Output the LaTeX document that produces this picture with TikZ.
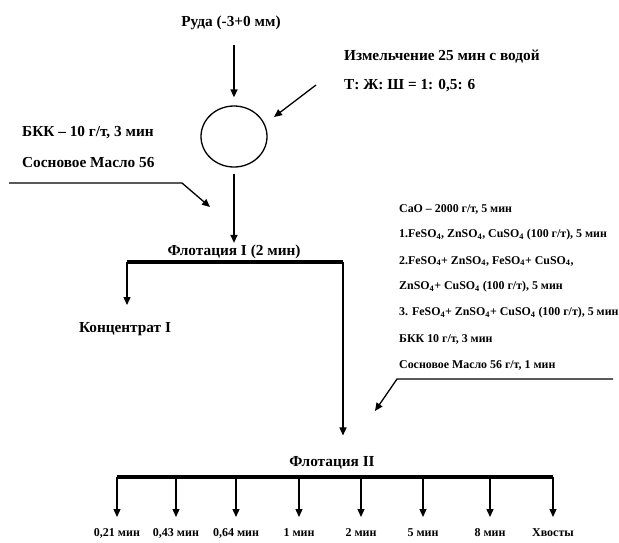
\documentclass[tikz,border=0pt]{standalone}
\usepackage{fontspec}
\setmainfont{Liberation Serif}
\usetikzlibrary{arrows.meta,shapes.geometric}

\tikzset{
  lbl/.style={font=\bfseries\fontsize{15.3}{18}\selectfont, inner sep=1pt},
  small/.style={font=\bfseries\fontsize{11.9}{14}\selectfont, inner sep=1pt, anchor=west},
  tiny/.style={font=\bfseries\fontsize{12}{14}\selectfont, inner sep=1pt},
  flow/.style={line width=1.3pt, -{Triangle[length=8pt,width=7pt]}},
  bar/.style={line width=3.8pt},
}
\newcommand{\so}[1]{#1SO\textsubscript{4}}

\begin{document}
\begin{tikzpicture}[x=1pt,y=-1pt]
    \useasboundingbox (0,0) rectangle (619,542);

    % ore, mill and grinding conditions
    \node[lbl] (ore) at (231,23) {Руда (-3+0 мм)};
    \node[draw, ellipse, line width=1.3pt, minimum width=66pt, minimum height=61pt, inner sep=0pt] (mill) at (234,136.5) {};
    \node[lbl, anchor=west] (grind) at (343,57) {Измельчение 25 мин с водой};
    \node[lbl, anchor=west] (ratio) at (343,86) {Т: Ж: Ш = 1: 0,5: 6};
    \coordinate (orein) at (234,45);
    \coordinate (grindin) at (316,85);
    \coordinate (grindtip) at (274,117);

    \draw[flow, shorten >=8pt] (orein) -- (mill.north);
    \draw[flow] (grindin) -- (grindtip);

    % reagents of the first flotation
    \node[lbl, anchor=west] (bkk1) at (21,133) {БКК – 10 г/т, 3 мин};
    \node[lbl, anchor=west] (oil1) at (21,163) {Сосновое Масло 56};
    \coordinate (feed1) at (9,183);
    \coordinate (bend1) at (182,183);
    \coordinate (tip1) at (210,207);
    \draw[flow] (feed1) -- (bend1) -- (tip1);

    % flotation I
    \node[lbl] (flot1) at (234,252) {Флотация I (2 мин)};
    \draw[flow, shorten <=6pt, shorten >=1pt] (mill.south) -- (flot1.north);
    \coordinate (bar1w) at (127,262);
    \coordinate (bar1e) at (343,262);
    \draw[bar] (bar1w) -- (bar1e);
    \node[lbl] (conc1) at (125,329) {Концентрат I};
    \draw[flow] (bar1w) -- (127,305);

    % reagents of the second flotation
    \node[small] (r1) at (398,209) {CaO – 2000 г/т, 5 мин};
    \node[small] (r2) at (398,235) {1.\so{Fe}, \so{Zn}, \so{Cu} (100 г/т), 5 мин};
    \node[small] (r3) at (398,261) {2.\so{Fe}+ \so{Zn}, \so{Fe}+ \so{Cu},};
    \node[small] (r4) at (398,287) {\so{Zn}+ \so{Cu} (100 г/т), 5 мин};
    \node[small] (r5) at (398,313) {3. \so{Fe}+ \so{Zn}+ \so{Cu} (100 г/т), 5 мин};
    \node[small] (r6) at (398,339) {БКК 10 г/т, 3 мин};
    \node[small] (r7) at (398,365) {Сосновое Масло 56 г/т, 1 мин};
    \coordinate (feed2) at (613,379);
    \coordinate (bend2) at (397,379);
    \coordinate (tip2) at (375,411);
    \draw[flow] (feed2) -- (bend2) -- (tip2);

    % flotation II and its products
    \node[lbl] (flot2) at (332,463) {Флотация II};
    \draw[flow, shorten >=20pt] (bar1e) -- (bar1e |- flot2.north);
    \coordinate (bar2w) at (117,477);
    \coordinate (bar2e) at (553,477);
    \draw[bar] (bar2w) -- (bar2e);
    \foreach \x/\t [count=\i] in {117/{0,21 мин}, 176/{0,43 мин}, 236/{0,64 мин}, 299/{1 мин},
                                 361/{2 мин}, 423/{5 мин}, 490/{8 мин}, 553/{Хвосты}} {
        \coordinate (p\i) at (\x,477);
        \node[tiny] (prod\i) at (\x,533) {\t};
        \draw[flow] (p\i) -- (\x,517);
    }
\end{tikzpicture}
\end{document}
